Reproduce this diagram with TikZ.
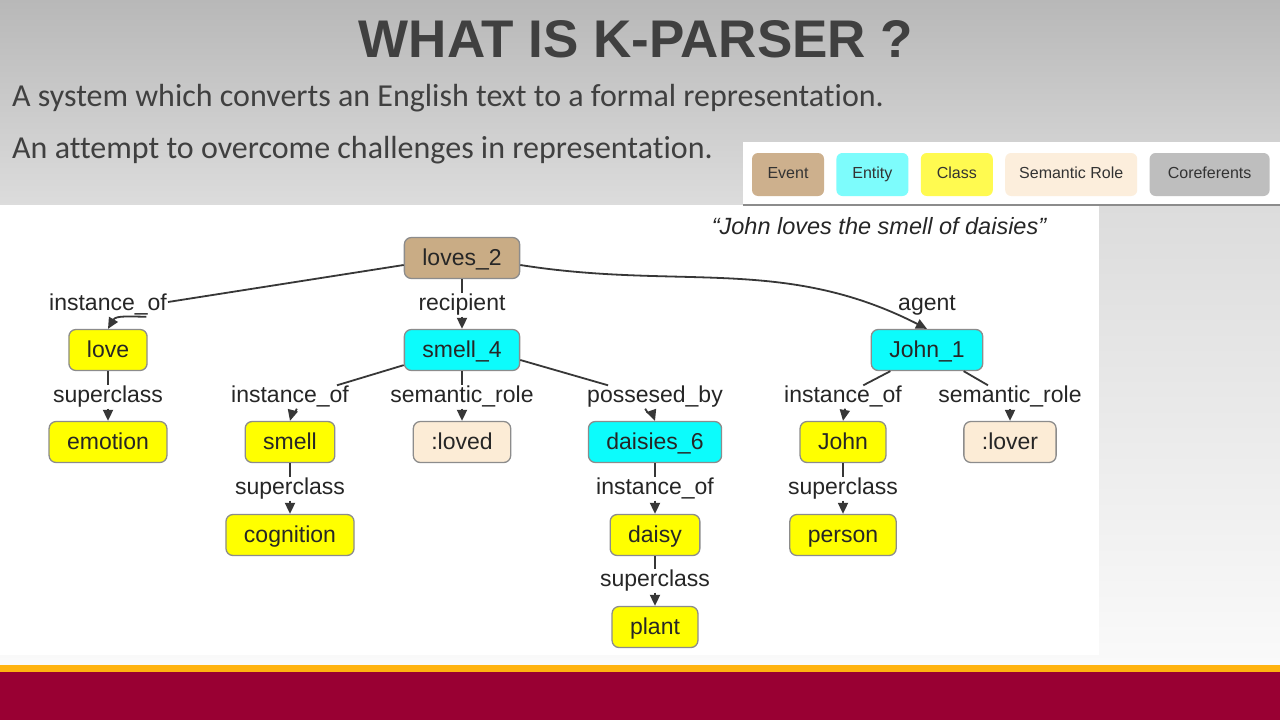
\documentclass[tikz,border=0pt]{standalone}
\usepackage{fontspec}
\setmainfont{Liberation Sans}
\newfontfamily\bodyfont[Ligatures=NoCommon]{Carlito}
\usetikzlibrary{positioning,arrows.meta}
\definecolor{bgtop}{RGB}{184,184,184}
\definecolor{bgmid}{RGB}{220,220,220}
\definecolor{bgbot}{RGB}{250,250,250}
\definecolor{asugold}{RGB}{255,179,16}
\definecolor{asured}{RGB}{153,0,51}
\definecolor{titleclr}{RGB}{64,64,64}
\definecolor{evtclr}{RGB}{201,172,133}
\definecolor{entclr}{RGB}{12,252,252}
\definecolor{clsclr}{RGB}{255,255,0}
\definecolor{semclr}{RGB}{252,236,214}
\definecolor{keyevt}{RGB}{205,176,141}
\definecolor{keyent}{RGB}{125,252,252}
\definecolor{keycls}{RGB}{255,250,80}
\definecolor{keysem}{RGB}{252,238,220}
\definecolor{keycor}{RGB}{190,190,190}
\definecolor{rimclr}{RGB}{140,140,140}
\definecolor{edgeclr}{RGB}{55,55,55}
\begin{document}
\begin{tikzpicture}[x=1pt,y=1pt,
    box/.style={draw=rimclr, line width=1.3pt, rounded corners=7pt, minimum height=41pt,
      inner xsep=18pt, text height=19pt, text depth=5pt,
      font=\fontsize{23}{27}\selectfont, text=black!85},
    evt/.style={box, fill=evtclr},
    ent/.style={box, fill=entclr},
    cls/.style={box, fill=clsclr},
    sem/.style={box, fill=semclr},
    rel/.style={inner sep=1pt, text height=16pt, text depth=5pt,
      font=\fontsize{23}{27}\selectfont, text=black!85},
    key/.style={rounded corners=6pt, minimum height=43pt, text height=11.5pt, text depth=3.5pt,
      font=\fontsize{16}{19}\selectfont, text=black!80},
    link/.style={draw=edgeclr, line width=1.8pt},
    arr/.style={link, -{Triangle[length=11pt,width=10pt]}}]
            \useasboundingbox (0,0) rectangle (1280,-720);
            \shade [top color=bgtop, bottom color=bgmid] (0,0) rectangle (1280,-205);
            \shade [top color=bgmid, bottom color=bgbot] (0,-205) rectangle (1280,-665);
            \fill [asugold] (0,-665) rectangle (1280,-672);
            \fill [asured] (0,-672) rectangle (1280,-720);
            \fill [white] (0,-205) rectangle (1099,-655);
            \node [anchor=base, font=\fontsize{53}{60}\selectfont\bfseries, text=titleclr] (title) at (636,-57) {WHAT IS K-PARSER ?};
            \node [anchor=base west, inner sep=0pt, font=\bodyfont\fontsize{32}{38}\selectfont, text=titleclr] (line1) at (12,-106) {A system which converts an English text to a formal representation.};
            \node [anchor=base west, inner sep=0pt, font=\bodyfont\fontsize{32}{38}\selectfont, text=titleclr] (line2) at (12,-158) {An attempt to overcome challenges in representation.};
            \fill [white] (743,-142) rectangle (1280,-205);
            \draw [rimclr, line width=1.5pt] (743,-205) -- (1280,-205);
            \node [key, fill=keyevt, minimum width=72pt] (kEvent) at (788,-174.5) {Event};
            \node [key, fill=keyent, minimum width=72pt, right=12pt of kEvent] (kEntity) {Entity};
            \node [key, fill=keycls, minimum width=72pt, right=12pt of kEntity] (kClass) {Class};
            \node [key, fill=keysem, minimum width=132pt, right=12pt of kClass] (kRole) {Semantic Role};
            \node [key, fill=keycor, minimum width=120pt, right=12pt of kRole] (kCoref) {Coreferents};
            \node [font=\fontsize{23.5}{27}\selectfont\itshape, text=black!85] (quote) at (879,-226) {“John loves the smell of daisies”};
            \node [evt] (loves2) at (462,-258) {loves\_2};
            \node [cls] (love) at (108,-350) {love};
            \node [ent] (smell4) at (462,-350) {smell\_4};
            \node [ent] (john1) at (927,-350) {John\_1};
            \node [cls] (emotion) at (108,-442) {emotion};
            \node [cls] (smell) at (290,-442) {smell};
            \node [sem] (loved) at (462,-442) {:loved};
            \node [ent] (daisies6) at (655,-442) {daisies\_6};
            \node [cls] (john) at (843,-442) {John};
            \node [sem] (lover) at (1010,-442) {:lover};
            \node [cls] (cognition) at (290,-535) {cognition};
            \node [cls] (daisy) at (655,-535) {daisy};
            \node [cls] (person) at (843,-535) {person};
            \node [cls] (plant) at (655,-627) {plant};
            \node [rel] (iofLove) at (108,-305) {instance\_of};
            \node [rel] (rcp) at (462,-305) {recipient};
            \node [rel] (agt) at (927,-305) {agent};
            \node [rel] (scLove) at (108,-397) {superclass};
            \node [rel] (iofSmell) at (290,-397) {instance\_of};
            \node [rel] (srSmell) at (462,-397) {semantic\_role};
            \node [rel] (pby) at (655,-397) {possesed\_by};
            \node [rel] (iofJohn) at (843,-397) {instance\_of};
            \node [rel] (srJohn) at (1010,-397) {semantic\_role};
            \node [rel] (scSmell) at (290,-489) {superclass};
            \node [rel] (iofDaisy) at (655,-489) {instance\_of};
            \node [rel] (scJohn) at (843,-489) {superclass};
            \node [rel] (scDaisy) at (655,-581) {superclass};
            \draw [link] ([yshift=-7pt]loves2.west) -- ([yshift=3pt]iofLove.east);
            \draw [arr] (iofLove.-17) to [out=180, in=60] (love.north);
            \draw [link] (loves2.south) -- (rcp.north);
            \draw [arr] (rcp.south) -- (smell4.north);
            \draw [arr] ([yshift=-7pt]loves2.east) to [out=-9, in=153] (john1.north);
            \draw [link] (love.south) -- (scLove.north);
            \draw [arr] (scLove.south) -- (emotion.north);
            \draw [link] ([yshift=6pt]smell4.south west) -- (iofSmell.14);
            \draw [arr] (iofSmell.-60) to [out=-105, in=75] (smell.north);
            \draw [link] (smell4.south) -- (srSmell.north);
            \draw [arr] (srSmell.south) -- (loved.north);
            \draw [link] ([yshift=-10pt]smell4.east) -- (pby.166);
            \draw [arr] (pby.-130) to [out=-70, in=110] (daisies6.north);
            \draw [link] (john1.-150) -- (iofJohn.30);
            \draw [arr] (iofJohn.-80) -- (john.north);
            \draw [link] (john1.-30) -- (srJohn.152);
            \draw [arr] (srJohn.south) -- (lover.north);
            \draw [link] (smell.south) -- (scSmell.north);
            \draw [arr] (scSmell.south) -- (cognition.north);
            \draw [link] (daisies6.south) -- (iofDaisy.north);
            \draw [arr] (iofDaisy.south) -- (daisy.north);
            \draw [link] (john.south) -- (scJohn.north);
            \draw [arr] (scJohn.south) -- (person.north);
            \draw [link] (daisy.south) -- (scDaisy.north);
            \draw [arr] (scDaisy.south) -- (plant.north);
\end{tikzpicture}
\end{document}
